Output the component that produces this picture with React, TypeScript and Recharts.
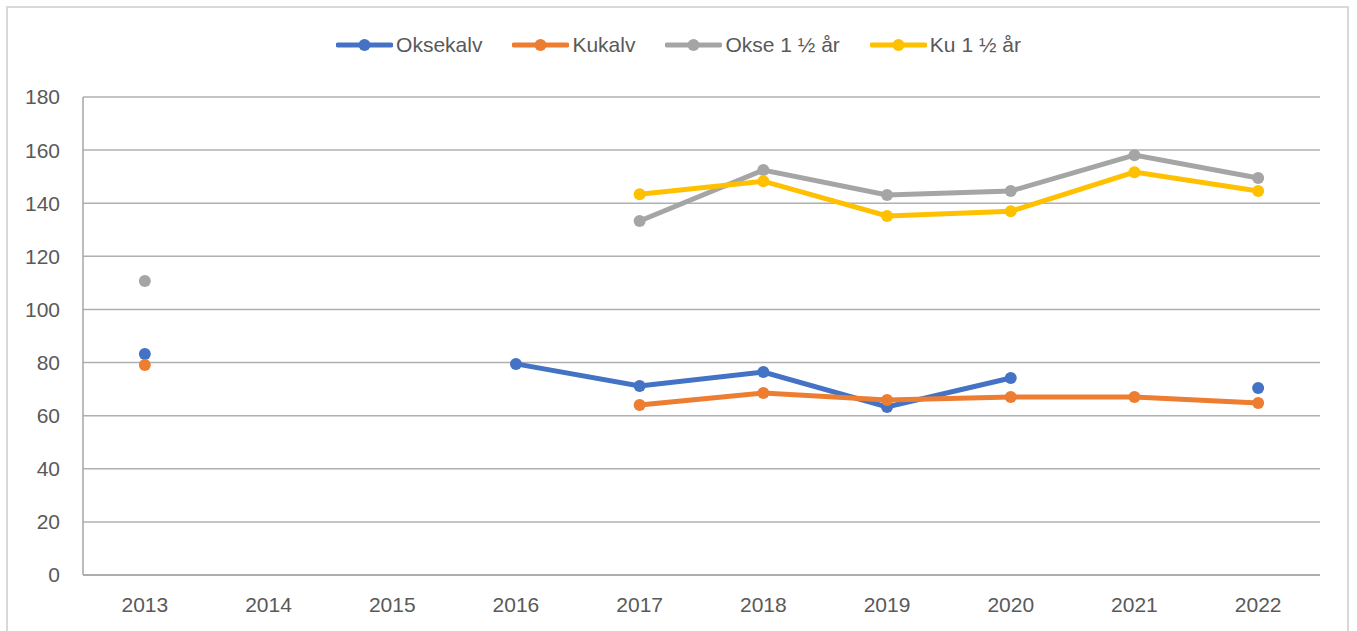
import { LineChart, Line, XAxis, YAxis, CartesianGrid } from "recharts";

const years = ["2013", "2014", "2015", "2016", "2017", "2018", "2019", "2020", "2021", "2022"];
const oksekalv = [83.2, null, null, 79.5, 71.2, 76.4, 63.3, 74.2, null, 70.4];
const kukalv = [79.1, null, null, null, 64.0, 68.5, 65.9, 67.0, 67.0, 64.8];
const okse15 = [110.7, null, null, null, 133.3, 152.5, 143.1, 144.6, 158.1, 149.5];
const ku15 = [null, null, null, null, 143.4, 148.3, 135.2, 137.0, 151.7, 144.6];
const yTicks = [0, 20, 40, 60, 80, 100, 120, 140, 160, 180];

const series = [
  { key: "oksekalv", name: "Oksekalv", color: "#4472C4" },
  { key: "kukalv", name: "Kukalv", color: "#ED7D31" },
  { key: "okse15", name: "Okse 1 ½ år", color: "#A5A5A5" },
  { key: "ku15", name: "Ku 1 ½ år", color: "#FFC000" },
];

const data = years.map((year, i) => ({
  year,
  oksekalv: oksekalv[i],
  kukalv: kukalv[i],
  okse15: okse15[i],
  ku15: ku15[i],
}));

const FONT = "'Liberation Sans', Arial, sans-serif";
const TEXT = "#595959";

function ChartLegend() {
  return (
    <div
      style={{
        position: "absolute",
        left: 15,
        top: 33,
        width: 1357,
        display: "flex",
        justifyContent: "center",
        alignItems: "center",
        fontFamily: FONT,
        fontSize: 21,
        color: TEXT,
        lineHeight: "24px",
      }}
    >
      {series.map((s) => (
        <div key={s.key} style={{ display: "flex", alignItems: "center", marginRight: 30 }}>
          <svg width={57} height={14} style={{ marginRight: 3 }}>
            <line x1={2} y1={7} x2={55} y2={7} stroke={s.color} strokeWidth={5} strokeLinecap="round" />
            <circle cx={28.5} cy={7} r={6} fill={s.color} />
          </svg>
          <span>{s.name}</span>
        </div>
      ))}
    </div>
  );
}

export default function App() {
  return (
    <div style={{ position: "absolute", left: 0, top: 0, width: 1357, height: 631, overflow: "hidden", background: "#fff" }}>
      <div
        style={{
          position: "absolute",
          left: 6,
          top: 6,
          width: 1339,
          height: 700,
          border: "2px solid #d9d9d9",
        }}
      />
      <ChartLegend />
      <div style={{ position: "absolute", left: 0, top: 0 }}>
        <LineChart width={1357} height={631} data={data} margin={{ top: 97, right: 37, bottom: 0, left: 0 }}>
          <CartesianGrid vertical={false} stroke="#b0b0b0" strokeWidth={1.5} />
          <XAxis
            dataKey="year"
            padding={{ left: 61.85, right: 61.85 }}
            axisLine={{ stroke: "#a6a6a6", strokeWidth: 1.5 }}
            tickLine={false}
            tickSize={0}
            tickMargin={22}
            tick={{ fill: TEXT, fontSize: 21, fontFamily: FONT }}
            height={56}
          />
          <YAxis
            width={83}
            domain={[0, 180]}
            ticks={yTicks}
            interval={0}
            axisLine={{ stroke: "#a6a6a6", strokeWidth: 1.5 }}
            tickLine={false}
            tickSize={0}
            tickMargin={23}
            tick={{ fill: TEXT, fontSize: 21, fontFamily: FONT }}
          />
          {series.map((s) => (
            <Line
              key={s.key}
              dataKey={s.key}
              name={s.name}
              stroke={s.color}
              strokeWidth={5}
              dot={{ r: 6, fill: s.color, stroke: s.color, strokeWidth: 0 }}
              activeDot={false}
              isAnimationActive={false}
            />
          ))}
        </LineChart>
      </div>
    </div>
  );
}
